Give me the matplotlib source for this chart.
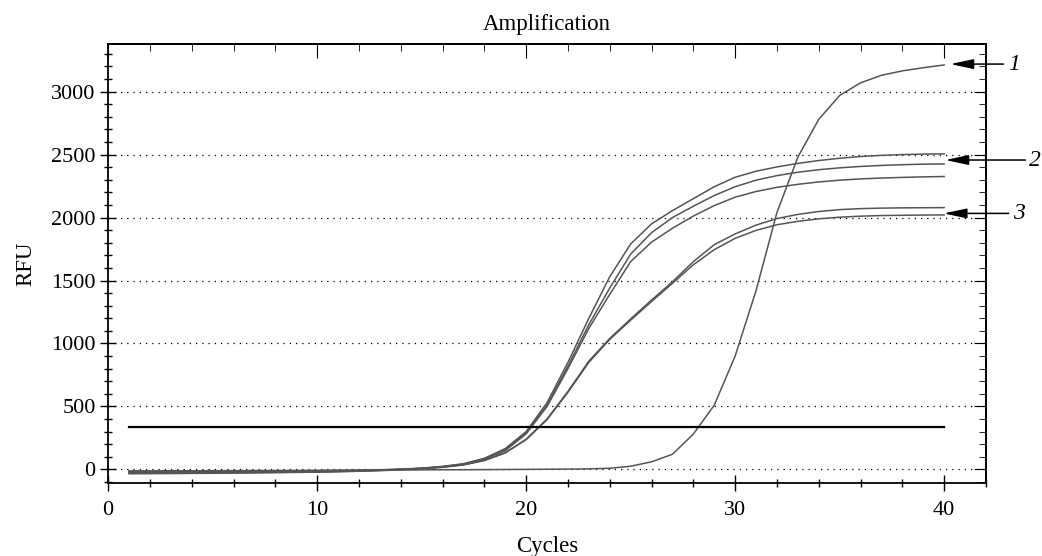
import numpy as np
import matplotlib
matplotlib.use('Agg')
from matplotlib import pyplot as plt
from matplotlib.ticker import MultipleLocator

# cycle numbers and RFU readings for each well
cycles = np.arange(1, 41)

curve_1 = [-12, -12, -11, -11, -10, -10, -9, -9, -8, -8,
           -7, -6, -6, -5, -4, -3, -3, -2, -1, 0,
           1, 2, 4, 9, 25, 60, 120, 280, 510, 900,
           1420, 2040, 2480, 2780, 2970, 3070, 3130, 3165, 3190, 3212]

curve_2a = [-20, -20, -19, -19, -18, -18, -17, -16, -15, -14,
            -12, -9, -5, 2, 10, 24, 45, 88, 165, 300,
            530, 850, 1200, 1530, 1790, 1950, 2055, 2150, 2245, 2320,
            2368, 2402, 2430, 2453, 2471, 2485, 2494, 2500, 2504, 2506]

curve_2b = [-25, -25, -24, -24, -23, -22, -21, -20, -19, -17,
            -15, -11, -7, 0, 8, 21, 42, 84, 155, 290,
            510, 820, 1150, 1440, 1710, 1880, 2000, 2090, 2175, 2245,
            2297, 2333, 2360, 2380, 2395, 2406, 2414, 2420, 2424, 2426]

curve_2c = [-30, -29, -29, -28, -27, -26, -25, -24, -22, -20,
            -17, -13, -8, -1, 7, 20, 40, 80, 148, 282,
            500, 800, 1120, 1390, 1650, 1805, 1915, 2012, 2095, 2162,
            2207, 2240, 2264, 2283, 2297, 2307, 2314, 2319, 2323, 2326]

curve_3a = [-35, -34, -33, -32, -31, -30, -28, -26, -24, -22,
            -19, -15, -10, -4, 4, 16, 35, 70, 130, 240,
            400, 620, 860, 1040, 1195, 1345, 1490, 1650, 1785, 1870,
            1940, 1992, 2025, 2048, 2063, 2071, 2075, 2077, 2078, 2079]

curve_3b = [-15, -15, -14, -14, -13, -13, -12, -12, -11, -10,
            -8, -6, -3, 1, 8, 19, 37, 72, 132, 236,
            395, 612, 850, 1032, 1185, 1333, 1478, 1625, 1745, 1835,
            1898, 1943, 1970, 1990, 2003, 2011, 2016, 2018, 2020, 2021]

threshold = 336
threshold_span = [1, 40]

labels = ['1', '2', '3']
label_tips = [(40.30, 3219), (40.06, 2457), (39.98, 2033)]
label_tails = [42.84, 43.89, 43.09]
label_text_x = [43.33, 44.33, 43.57]

plt.rcParams['font.family'] = ['Liberation Serif', 'DejaVu Serif']
plt.rcParams['font.size'] = 16

fig = plt.figure(figsize=(10.42, 5.56), dpi=100)
ax = fig.add_axes([0.1038, 0.1318, 0.8424, 0.7885])

ax.set_xlim(0, 42)
ax.set_ylim(-106, 3376)

# dotted grid at major y ticks
for g in range(0, 3001, 500):
    ax.axhline(g, color='black', lw=0.9, ls=(0, (1, 4)), zorder=1)

line_color = '#555555'
for c in [curve_2a, curve_2b, curve_2c, curve_3a, curve_3b, curve_1]:
    ax.plot(cycles, c, color=line_color, lw=1.1, zorder=3)

ax.plot(threshold_span, [threshold, threshold], color='black', lw=1.6, zorder=4)

ax.xaxis.set_major_locator(MultipleLocator(10))
ax.xaxis.set_minor_locator(MultipleLocator(2))
ax.yaxis.set_major_locator(MultipleLocator(500))
ax.yaxis.set_minor_locator(MultipleLocator(100))
ax.tick_params(which='major', direction='inout', length=11, width=1.0,
               labelsize=16, top=False, right=False)
ax.tick_params(which='minor', direction='inout', length=6, width=1.0,
               top=False, right=False)
ax.tick_params(axis='x', pad=8)

for sp in ax.spines.values():
    sp.set_linewidth(1.3)

# inward ticks on top and right
top = ax.secondary_xaxis('top')
top.xaxis.set_major_locator(MultipleLocator(10))
top.xaxis.set_minor_locator(MultipleLocator(2))
top.tick_params(which='major', direction='in', length=10, labeltop=False)
top.tick_params(which='minor', direction='in', length=5)
top.spines['top'].set_linewidth(1.3)

right = ax.secondary_yaxis('right')
right.yaxis.set_major_locator(MultipleLocator(500))
right.yaxis.set_minor_locator(MultipleLocator(100))
right.tick_params(which='major', direction='in', length=9, labelright=False)
right.tick_params(which='minor', direction='in', length=5)
right.spines['right'].set_linewidth(1.3)

ax.set_title('Amplification', fontsize=16.5, pad=10)
ax.set_xlabel('Cycles', fontsize=16.5, labelpad=11)
ax.set_ylabel('RFU', fontsize=16.5, labelpad=11)

for lab, tip, tail, tx in zip(labels, label_tips, label_tails, label_text_x):
    ax.annotate('', xy=tip, xytext=(tail, tip[1]), annotation_clip=False,
                arrowprops=dict(arrowstyle='-|>,head_length=1.4,head_width=0.3',
                                mutation_scale=10, color='black', lw=1.1,
                                shrinkA=0, shrinkB=0), zorder=5)
    ax.text(tx, tip[1], lab, fontsize=17, style='italic', ha='center',
            va='center', clip_on=False)

fig.savefig('out.png', dpi=100)
